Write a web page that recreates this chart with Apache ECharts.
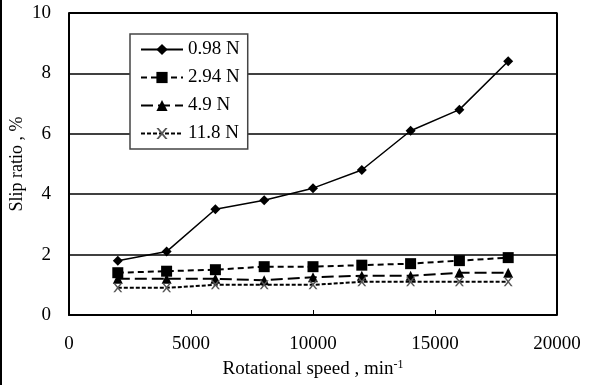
<!DOCTYPE html>
<html>
<head>
<meta charset="utf-8">
<script src="https://cdn.jsdelivr.net/npm/echarts@6/dist/echarts.min.js"></script>
<style>html,body{margin:0;padding:0;background:#fff;}#c{width:591px;height:385px;}</style>
</head>
<body>
<div id="c"></div>
<script>
const speeds = [2000, 4000, 6000, 8000, 10000, 12000, 14000, 16000, 18000];
const s098 = [1.8, 2.1, 3.5, 3.8, 4.2, 4.8, 6.1, 6.8, 8.4];
const s294 = [1.4, 1.45, 1.5, 1.6, 1.6, 1.65, 1.7, 1.8, 1.9];
const s49  = [1.2, 1.2, 1.2, 1.15, 1.25, 1.3, 1.3, 1.4, 1.4];
const s118 = [0.9, 0.9, 1.0, 1.0, 1.0, 1.1, 1.1, 1.1, 1.1];
const seriesNames = ['0.98 N', '2.94 N', '4.9 N', '11.8 N'];
const xTicks = [0, 5000, 10000, 15000, 20000];
const yTicks = [0, 2, 4, 6, 8, 10];

const font = 'Liberation Serif';
const xMark = 'path://M0,0 L2,0 L5,3.6 L8,0 L10,0 L6,5 L10,10 L8,10 L5,6.4 L2,10 L0,10 L4,5 Z';
const pairs = arr => speeds.map((x, i) => [x, arr[i]]);

const chart = echarts.init(document.getElementById('c'), null, {renderer: 'canvas'});
chart.setOption({
  animation: false,
  backgroundColor: '#fff',
  textStyle: {fontFamily: font, color: '#000'},
  grid: {left: 69, right: 34, top: 13, bottom: 70, show: false, containLabel: false, outerBoundsMode: 'none'},
  legend: {
    orient: 'vertical', left: 130, top: 34,
    padding: [6, 8, 6, 10],
    backgroundColor: '#fff', borderColor: '#444', borderWidth: 1.5,
    itemWidth: 42, itemHeight: 14, itemGap: 9,
    textStyle: {fontFamily: font, fontSize: 19, color: '#000'},
    data: seriesNames
  },
  graphic: [{type: 'rect', left: 0, top: 0, shape: {width: 2, height: 385}, style: {fill: '#000'}}],
  xAxis: {
    type: 'value', min: xTicks[0], max: xTicks[xTicks.length - 1], interval: 5000,
    name: '{a|Rotational speed , min}{b|-1}', nameLocation: 'middle', nameGap: 44,
    nameTextStyle: {rich: {a: {fontFamily: font, fontSize: 19, color: '#000'}, b: {fontFamily: font, fontSize: 12, color: '#000', padding: [0, 0, 9, 0]}}},
    axisLine: {show: true, lineStyle: {color: '#000', width: 2}},
    axisTick: {show: true, inside: true, length: 5, lineStyle: {color: '#000', width: 1}},
    axisLabel: {fontFamily: font, fontSize: 19, color: '#000', margin: 20, formatter: v => String(v)},
    splitLine: {show: false}
  },
  yAxis: {
    type: 'value', min: yTicks[0], max: yTicks[yTicks.length - 1], interval: 2,
    name: 'Slip ratio , %', nameLocation: 'middle', nameGap: 43, nameMoveOverlap: false,
    nameTextStyle: {fontFamily: font, fontSize: 18, color: '#000'},
    axisLine: {show: true, lineStyle: {color: '#000', width: 2}},
    axisTick: {show: false},
    axisLabel: {fontFamily: font, fontSize: 19, color: '#000', margin: 18, formatter: v => String(v)},
    splitLine: {show: true, lineStyle: {color: '#000', width: 1.5}}
  },
  series: [
    {name: seriesNames[0], type: 'line', data: pairs(s098), symbol: 'diamond', symbolSize: 10,
     lineStyle: {color: '#000', width: 1.5, type: 'solid'}, itemStyle: {color: '#000'}},
    {name: seriesNames[1], type: 'line', data: pairs(s294), symbol: 'rect', symbolSize: 11,
     lineStyle: {color: '#000', width: 2, type: [6, 4]}, itemStyle: {color: '#000'}},
    {name: seriesNames[2], type: 'line', data: pairs(s49), symbol: 'triangle', symbolSize: 10,
     lineStyle: {color: '#000', width: 2, type: [12, 5]}, itemStyle: {color: '#000'}},
    {name: seriesNames[3], type: 'line', data: pairs(s118), symbol: xMark, symbolSize: 9,
     lineStyle: {color: '#000', width: 2, type: [4, 2]}, itemStyle: {color: '#555'}},
    {type: 'line', data: [[20000, 0], [20000, 10], [0, 10]], symbol: 'none', silent: true,
     lineStyle: {color: '#000', width: 2}, z: 1}
  ]
});
</script>
</body>
</html>
